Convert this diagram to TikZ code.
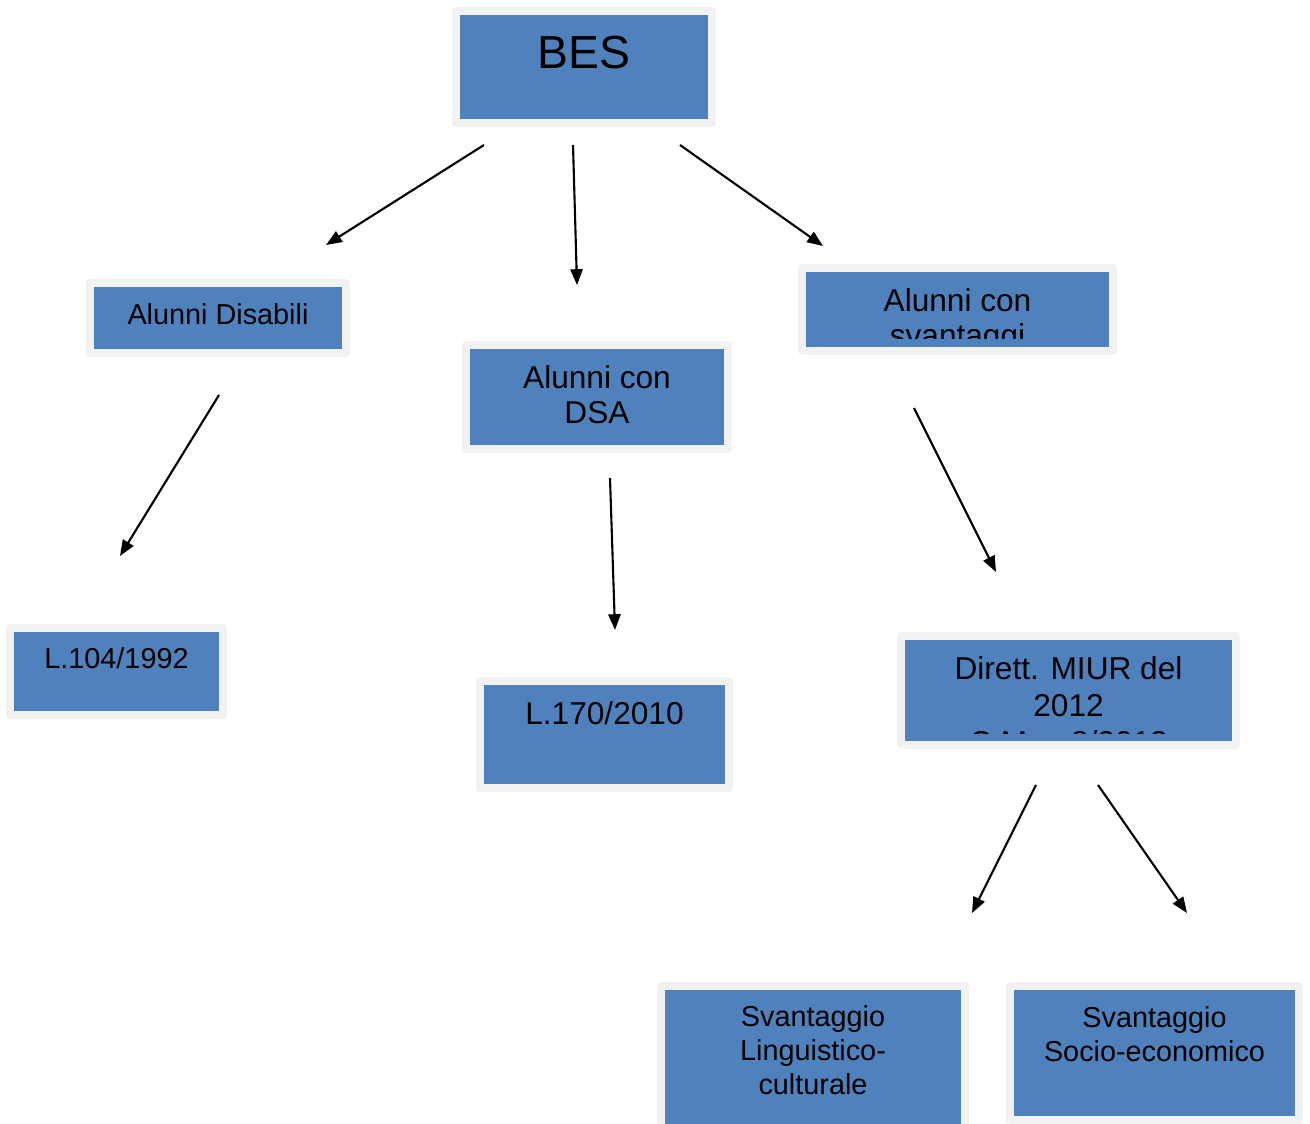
\documentclass[tikz,border=0pt]{standalone}
\usepackage{fontspec}
\setmainfont{Liberation Sans}
\usetikzlibrary{arrows.meta}
\definecolor{boxblue}{RGB}{79,129,189}
\definecolor{boxedge}{RGB}{242,242,242}
\begin{document}
\begin{tikzpicture}[x=0.02cm, y=-0.02cm, line join=round,
	box/.style={draw=boxedge, line width=4.5pt, fill=boxblue, inner sep=0pt},
	txt/.style={align=center, inner sep=0pt, font=\fontsize{18}{20}\selectfont},
	small/.style={font=\fontsize{16.4}{19.3}\selectfont},
	arr/.style={-{Triangle[length=9pt, width=7pt]}, line width=1.2pt}]
	\useasboundingbox (0,0) rectangle (1310,1124);
	
	% Caselle
	\node[box, minimum width=5.12cm, minimum height=2.24cm] (bes) at (584,67) {};
	\node[box, minimum width=5.12cm, minimum height=1.4cm] (dis) at (218,318) {};
	\node[box, minimum width=5.24cm, minimum height=2.08cm] (dsa) at (597,397) {};
	\node[box, minimum width=6.22cm, minimum height=1.66cm] (sva) at (957.5,309.5) {};
	\node[box, minimum width=4.26cm, minimum height=1.74cm] (legge104) at (116.5,671.5) {};
	\node[box, minimum width=4.98cm, minimum height=2.14cm] (legge170) at (604.5,734.5) {};
	\node[box, minimum width=6.7cm, minimum height=2.18cm] (miur) at (1068.5,690.5) {};
	\node[box, minimum width=6.08cm, minimum height=3.08cm] (ling) at (813,1063) {};
	\node[box, minimum width=5.78cm, minimum height=2.68cm] (soc) at (1154.5,1053) {};
	
	% Testi
	\node[txt, font=\fontsize{26.4}{30}\selectfont] (tbes) at (584,53) {BES};
	\node[txt, small] (tdis) at (218,314) {Alunni Disabili};
	\node[txt] (tdsa) at (597,395) {Alunni con\\DSA};
	\begin{scope}
		\clip (806,272) rectangle (1109,339);
		\node[txt] (tsva) at (957.5,321) {Alunni con\\svantaggi};
	\end{scope}
	\node[txt, small] (t104) at (116.5,658) {L.104/1992};
	\node[txt] (t170) at (604.5,713) {L.170/2010};
	\begin{scope}
		\clip (905,640) rectangle (1232,733);
		\node[txt, font=\fontsize{18}{21}\selectfont] (tmiur) at (1068.5,705) {Dirett. MIUR del\\2012\\C.M. n.8/2013};
	\end{scope}
	\node[txt, small] (tling) at (813,1050) {Svantaggio\\Linguistico-\\culturale};
	\node[txt, small] (tsoc) at (1154.5,1034) {Svantaggio\\Socio-economico};
	
	% Estremi delle frecce
	\coordinate (a1) at (484,145); \coordinate (b1) at (326,245);
	\coordinate (a2) at (573,145); \coordinate (b2) at (577,285);
	\coordinate (a3) at (680,145); \coordinate (b3) at (823,246);
	\coordinate (a4) at (219,395); \coordinate (b4) at (120,556);
	\coordinate (a5) at (610,478); \coordinate (b5) at (615,630);
	\coordinate (a6) at (914,408); \coordinate (b6) at (996,572);
	\coordinate (a7) at (1036,785); \coordinate (b7) at (972,913);
	\coordinate (a8) at (1098,785); \coordinate (b8) at (1187,913);
	
	% Frecce
	\foreach \i in {1,...,8}
		\draw[arr] (a\i) -- (b\i);
\end{tikzpicture}
\end{document}
